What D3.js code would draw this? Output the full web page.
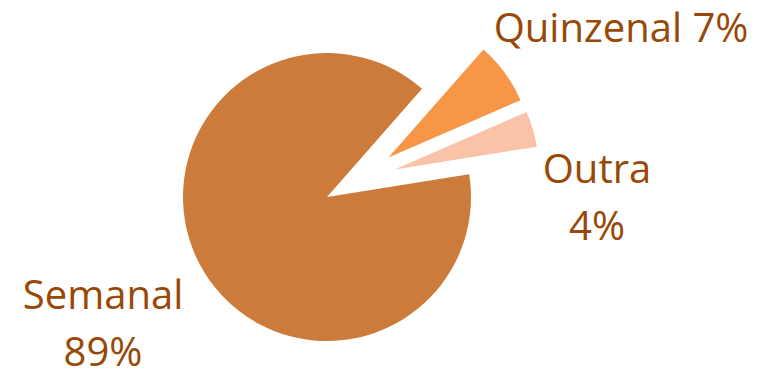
<!DOCTYPE html>
<html>
<head>
<meta charset="utf-8">
<script src="https://cdn.jsdelivr.net/npm/d3@7"></script>
<style>
  html, body { margin: 0; padding: 0; background: #fff; }
  svg { display: block; }
  .lbl { font-family: "Open Sans", sans-serif; font-size: 40px; fill: #984807; }
</style>
</head>
<body>
<svg id="chart"></svg>
<script>
// Frequência de pagamento
var categories = ["Semanal", "Quinzenal", "Outra"];
var values = [89, 7, 4];
var colors = ["#CD7B3A", "#F79646", "#FAC3A8"];

var width = 766, height = 371;
var cx = 327, cy = 197, radius = 144;
// explosion distance and a small nudge of its direction (degrees), per slice
var explode = [0, 73, 73];
var explodeTurn = [0, 3.4, -5.9];

// label lines, placed like the original (outside end)
var labelLines = [["Semanal", "89%"], ["Quinzenal 7%"], ["Outra", "4%"]];
var labelPos = [[103, 309], [621, 42], [597, 183]];
var lineHeight = 57;

var svg = d3.select("#chart")
    .attr("width", width)
    .attr("height", height);

var data = categories.map(function(c, i) {
    return { name: c, value: values[i], i: i };
});

var start = 80.9 * Math.PI / 180;
var pie = d3.pie()
    .sort(null)
    .value(function(d) { return d.value; })
    .startAngle(start)
    .endAngle(start + 2 * Math.PI);

var arc = d3.arc()
    .innerRadius(0)
    .outerRadius(radius);

var g = svg.append("g")
    .attr("transform", "translate(" + cx + "," + cy + ")");

g.selectAll("path")
    .data(pie(data))
    .enter().append("path")
    .attr("d", arc)
    .attr("fill", function(d) { return colors[d.data.i]; })
    .attr("transform", function(d) {
        var a = (d.startAngle + d.endAngle) / 2 + explodeTurn[d.data.i] * Math.PI / 180;
        var k = explode[d.data.i];
        return "translate(" + (k * Math.sin(a)) + "," + (-k * Math.cos(a)) + ")";
    });

labelLines.forEach(function(lines, i) {
    var t = svg.append("text")
        .attr("class", "lbl")
        .attr("text-anchor", "middle")
        .attr("x", labelPos[i][0])
        .attr("y", labelPos[i][1]);
    lines.forEach(function(s, j) {
        t.append("tspan")
            .attr("x", labelPos[i][0])
            .attr("dy", j === 0 ? 0 : lineHeight)
            .text(s);
    });
});
</script>
</body>
</html>
